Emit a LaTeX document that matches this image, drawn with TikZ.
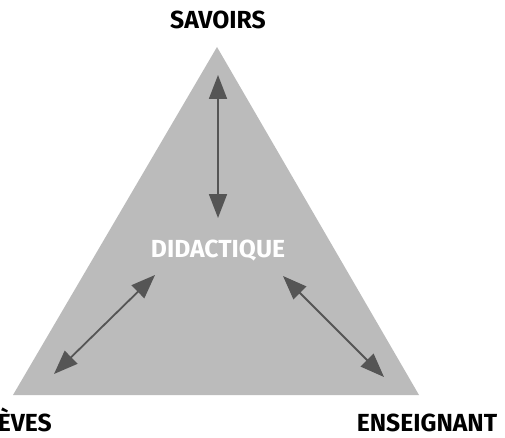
\documentclass[tikz,border=0pt]{standalone}
\usepackage{fontspec}
\setmainfont{Fira Sans}
\usetikzlibrary{arrows.meta}
\definecolor{trifill}{HTML}{BBBBBB}
\definecolor{arrowcol}{HTML}{555555}
\tikzset{
  lbl/.style={font=\fontsize{24.7}{28}\selectfont\bfseries, text=black, inner sep=0pt, text depth=0pt, anchor=base},
  dbl/.style={arrowcol, line width=1.8pt, {Triangle[length=24pt,width=18pt]}-{Triangle[length=24pt,width=18pt]}, shorten <=0pt, shorten >=0pt}
}
\begin{document}
\begin{tikzpicture}[x=1pt,y=1pt]
\useasboundingbox (0,0) rectangle (505,437);
\clip (0,0) rectangle (505,437);
\fill[trifill] (217,390) -- (13,42) -- (419,42) -- cycle;
\coordinate (vt) at (218,362);
\coordinate (vb) at (218,219);
\coordinate (lt) at (155,162);
\coordinate (lb) at (54,63);
\coordinate (rt) at (283,161);
\coordinate (rb) at (384,60);
\draw[dbl] (vt) -- (vb);
\draw[dbl] (lt) -- (lb);
\draw[dbl] (rt) -- (rb);
\node[lbl] (sav) at (218,408) {SAVOIRS};
\node[lbl, text=white] (did) at (218,180) {DIDACTIQUE};
\node[lbl, anchor=base east] (ele) at (52,5.5) {ÉLÈVES};
\node[lbl] (ens) at (427,5.5) {ENSEIGNANT};
\end{tikzpicture}
\end{document}
